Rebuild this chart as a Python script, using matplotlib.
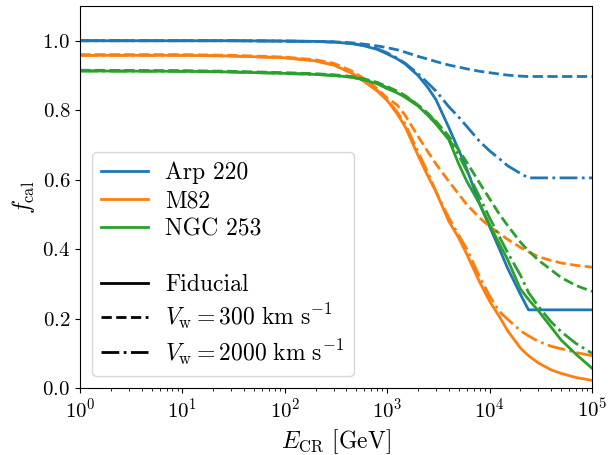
import matplotlib
matplotlib.use('Agg')
import matplotlib.pyplot as plt
from matplotlib.lines import Line2D

plt.rcParams['font.family'] = 'serif'
plt.rcParams['font.serif'] = ['cmr10']
plt.rcParams['mathtext.fontset'] = 'cm'
plt.rcParams['axes.formatter.use_mathtext'] = True
plt.rcParams['font.size'] = 15

# energy grid (GeV)
E_cr = [1, 10, 30, 100, 200, 300, 450, 600, 800, 1000, 1250, 1500, 2000, 2500, 3000,
        4000, 5000, 6000, 8000, 1e4, 1.25e4, 1.5e4, 2e4, 2.4e4, 3e4, 4e4, 5e4, 7e4, 1e5]

# Arp 220
arp_fid = [1.0, 1.0, 1.0, 0.999, 0.998, 0.996, 0.992, 0.985, 0.975, 0.962, 0.948, 0.933, 0.90, 0.865, 0.83,
           0.75, 0.685, 0.63, 0.53, 0.465, 0.40, 0.345, 0.27, 0.225, 0.225, 0.225, 0.225, 0.225, 0.225]
arp_300 = [1.0, 1.0, 1.0, 0.999, 0.998, 0.997, 0.994, 0.99, 0.985, 0.98, 0.974, 0.967, 0.955, 0.947, 0.94,
           0.93, 0.924, 0.919, 0.912, 0.908, 0.904, 0.901, 0.898, 0.897, 0.897, 0.897, 0.897, 0.897, 0.897]
arp_2000 = [1.0, 1.0, 1.0, 0.999, 0.998, 0.996, 0.992, 0.986, 0.977, 0.965, 0.95, 0.935, 0.905, 0.878, 0.855,
            0.81, 0.78, 0.753, 0.71, 0.683, 0.66, 0.64, 0.618, 0.605, 0.605, 0.605, 0.605, 0.605, 0.605]

# M82
m82_fid = [0.958, 0.958, 0.956, 0.951, 0.942, 0.93, 0.907, 0.882, 0.855, 0.828, 0.79, 0.752, 0.67, 0.61, 0.565,
           0.48, 0.432, 0.385, 0.305, 0.25, 0.205, 0.165, 0.115, 0.093, 0.072, 0.052, 0.042, 0.03, 0.022]
m82_300 = [0.96, 0.96, 0.958, 0.953, 0.945, 0.935, 0.913, 0.89, 0.862, 0.835, 0.815, 0.785, 0.725, 0.68, 0.645,
           0.595, 0.558, 0.528, 0.49, 0.465, 0.445, 0.428, 0.405, 0.392, 0.378, 0.367, 0.36, 0.353, 0.348]
m82_2000 = [0.958, 0.958, 0.956, 0.951, 0.942, 0.93, 0.907, 0.882, 0.857, 0.83, 0.795, 0.76, 0.68, 0.62, 0.565,
            0.49, 0.44, 0.40, 0.32, 0.265, 0.22, 0.198, 0.165, 0.15, 0.134, 0.12, 0.113, 0.102, 0.093]

# NGC 253
ngc_fid = [0.913, 0.912, 0.91, 0.906, 0.903, 0.90, 0.895, 0.887, 0.876, 0.862, 0.85, 0.837, 0.812, 0.785, 0.76,
           0.715, 0.645, 0.595, 0.53, 0.47, 0.415, 0.37, 0.285, 0.255, 0.222, 0.175, 0.138, 0.097, 0.057]
ngc_300 = [0.915, 0.914, 0.912, 0.908, 0.905, 0.902, 0.897, 0.89, 0.88, 0.868, 0.855, 0.842, 0.815, 0.79, 0.768,
           0.725, 0.685, 0.65, 0.59, 0.545, 0.50, 0.468, 0.42, 0.395, 0.368, 0.34, 0.318, 0.295, 0.278]
ngc_2000 = [0.913, 0.912, 0.91, 0.906, 0.903, 0.90, 0.895, 0.888, 0.878, 0.865, 0.852, 0.84, 0.815, 0.79, 0.765,
            0.718, 0.67, 0.625, 0.55, 0.49, 0.435, 0.39, 0.325, 0.275, 0.235, 0.19, 0.162, 0.128, 0.10]

galaxies = ['Arp 220', 'M82', 'NGC 253']
curves = [(arp_fid, arp_300, arp_2000), (m82_fid, m82_300, m82_2000), (ngc_fid, ngc_300, ngc_2000)]
colors = ['tab:blue', 'tab:orange', 'tab:green']
styles = ['-', '--', '-.']
style_labels = ['Fiducial', r'$V_{\rm w} = 300~{\rm km~s^{-1}}$', r'$V_{\rm w} = 2000~{\rm km~s^{-1}}$']

fig = plt.figure(figsize=(6.08, 4.55), dpi=100)
ax = fig.add_axes([0.1316, 0.1473, 0.842, 0.8395])

for vals, c in zip(curves, colors):
  for y, ls in zip(vals, styles):
    ax.plot(E_cr, y, color=c, ls=ls, lw=2)

ax.set_xscale('log')
ax.set_xlim(1, 1e5)
ax.set_ylim(0, 1.1)
ax.set_yticks([0.0, 0.2, 0.4, 0.6, 0.8, 1.0])
ax.set_xlabel(r'$E_{\rm CR}$ [GeV]', fontsize=17)
ax.set_ylabel(r'$f_{\rm cal}$', fontsize=17)

handles = [Line2D([], [], color=c, lw=2) for c in colors]
handles.append(Line2D([], [], color='none'))
handles += [Line2D([], [], color='k', ls=ls, lw=2) for ls in styles]
labels = galaxies + [' '] + style_labels
ax.legend(handles, labels, loc='lower left', fontsize=17, labelspacing=0.25, handletextpad=0.7)

fig.savefig('out.png', dpi=100)
